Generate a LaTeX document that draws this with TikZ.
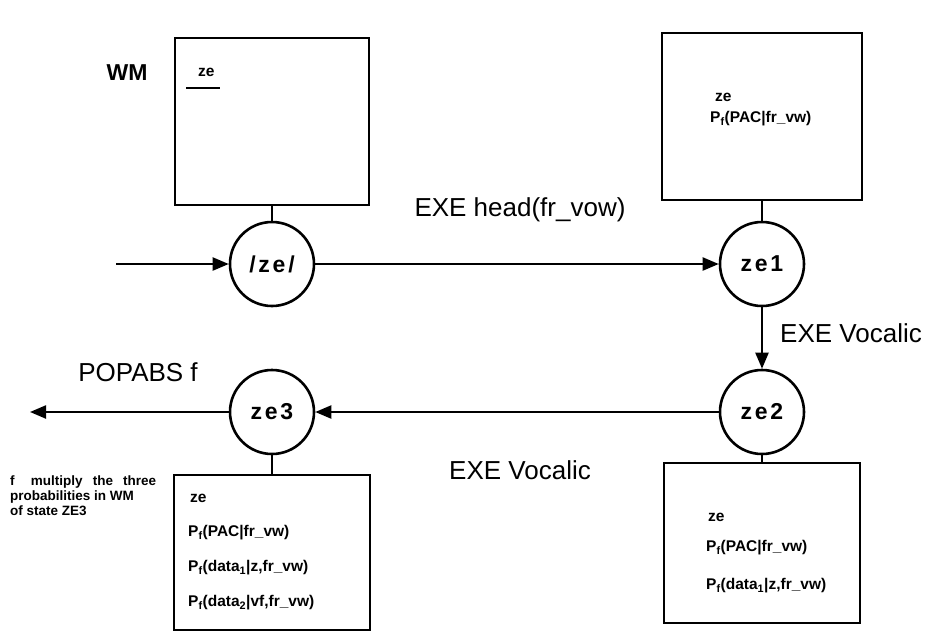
\documentclass[tikz,border=0pt]{standalone}
\usepackage{fontspec}
\setmainfont{Liberation Sans}
\usetikzlibrary{arrows.meta}
\newfontfamily\circfont[LetterSpace=12]{Liberation Sans}
\begin{document}
\begin{tikzpicture}[x=1pt,y=-1pt,
  state/.style={circle,draw,line width=2.6pt,minimum size=84pt,inner sep=0pt,font=\circfont\bfseries\fontsize{23}{23}\selectfont},
  wmbox/.style={draw,line width=2.2pt},
  link/.style={line width=2.6pt},
  arr/.style={line width=2.2pt,-{Triangle[length=16pt,width=13pt]}},
  lbl/.style={font=\fontsize{26}{26}\selectfont,inner sep=0pt},
  btxt/.style={font=\bfseries\fontsize{15.5}{15.5}\selectfont,anchor=west,inner sep=0pt},
  note/.style={font=\bfseries\fontsize{13.5}{15}\selectfont,align=left,anchor=north west,inner sep=0pt}]
\useasboundingbox (0,0) rectangle (927,633);

% states
\node[state] (s0) at (272,264) {/ze/};
\node[state] (s1) at (762,264) {ze1};
\node[state] (s2) at (762,412) {ze2};
\node[state] (s3) at (272,412) {ze3};

% WM boxes
\node[wmbox,minimum width=194pt,minimum height=167pt,inner sep=0pt] (b0) at (272,121.5) {};
\node[wmbox,minimum width=200pt,minimum height=167pt,inner sep=0pt] (b1) at (762,116.5) {};
\node[wmbox,minimum width=196pt,minimum height=160pt,inner sep=0pt] (b2) at (762,543) {};
\node[wmbox,minimum width=196pt,minimum height=155pt,inner sep=0pt] (b3) at (272,552.5) {};

\draw[link] (b0.south) -- (s0.north);
\draw[link] (b1.south) -- (s1.north);
\draw[link] (s2.south) -- (b2.north);
\draw[link] (s3.south) -- (b3.north);

% WM label and box contents
\node[font=\bfseries\fontsize{23}{23}\selectfont,inner sep=0pt] (wm) at (127,73) {WM};
\node[btxt] (t0) at (198,72) {ze};
\coordinate (u0a) at (186,88);
\coordinate (u0b) at (220,88);
\draw[line width=1.6pt] (u0a) -- (u0b);

\node[btxt] (t1a) at (715,97) {ze};
\node[btxt] (t1b) at (710,119) {P\textsubscript{f}(PAC|fr\_vw)};

\node[btxt] (t2a) at (708,517) {ze};
\node[btxt] (t2b) at (706,548) {P\textsubscript{f}(PAC|fr\_vw)};
\node[btxt] (t2c) at (706,586) {P\textsubscript{f}(data\textsubscript{1}|z,fr\_vw)};

\node[btxt] (t3a) at (190,498) {ze};
\node[btxt] (t3b) at (188,533) {P\textsubscript{f}(PAC|fr\_vw)};
\node[btxt] (t3c) at (188,568) {P\textsubscript{f}(data\textsubscript{1}|z,fr\_vw)};
\node[btxt] (t3d) at (188,603) {P\textsubscript{f}(data\textsubscript{2}|vf,fr\_vw)};

% transitions
\coordinate (in) at (116,264);
\coordinate (out) at (30,412);
\draw[arr] (in) -- (s0.west);
\draw[arr] (s0.east) -- (s1.west);
\draw[arr] (s1.south) -- (s2.north);
\draw[arr] (s2.west) -- (s3.east);
\draw[arr] (s3.west) -- (out);

\node[lbl] (l1) at (520,210) {EXE head(fr\_vow)};
\node[lbl,anchor=west] (l2) at (780,333) {EXE Vocalic};
\node[lbl] (l3) at (520,470) {EXE Vocalic};
\node[lbl] (l4) at (138,372) {POPABS f};

\node[note] (n) at (10,476) {\spaceskip=0.75em f\hspace{1.2em}multiply the three\\probabilities in WM\\of state ZE3};
\end{tikzpicture}
\end{document}
